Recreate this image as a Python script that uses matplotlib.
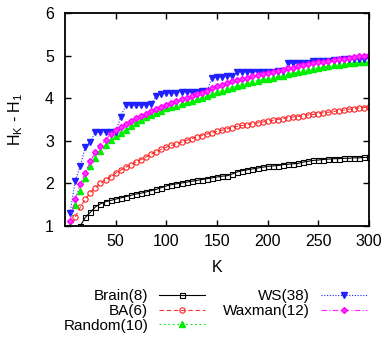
import numpy as np
import matplotlib
matplotlib.use('Agg')
import matplotlib.pyplot as plt

plt.rcParams['font.family'] = ['Liberation Sans', 'DejaVu Sans']

# K values (one marker every 5)
k = list(range(5, 301, 5))

brain = [0.5, 0.8, 1.0, 1.2, 1.32, 1.45, 1.52, 1.57, 1.6, 1.63,
         1.66, 1.69, 1.72, 1.75, 1.77, 1.8, 1.83, 1.86, 1.9, 1.94,
         1.97, 1.99, 2.01, 2.03, 2.05, 2.07, 2.09, 2.11, 2.13, 2.15,
         2.17, 2.18, 2.22, 2.27, 2.3, 2.32, 2.34, 2.36, 2.38, 2.4,
         2.41, 2.42, 2.44, 2.45, 2.46, 2.47, 2.5, 2.52, 2.54, 2.55,
         2.56, 2.57, 2.58, 2.58, 2.59, 2.59, 2.6, 2.6, 2.61, 2.61]

ba = [0.9, 1.2, 1.44, 1.63, 1.78, 1.9, 2.0, 2.08, 2.16, 2.24,
      2.31, 2.38, 2.44, 2.5, 2.56, 2.62, 2.68, 2.74, 2.8, 2.85,
      2.89, 2.93, 2.97, 3.01, 3.05, 3.09, 3.12, 3.16, 3.19, 3.22,
      3.25, 3.28, 3.31, 3.34, 3.36, 3.38, 3.4, 3.42, 3.44, 3.46,
      3.48, 3.5, 3.52, 3.54, 3.56, 3.57, 3.59, 3.61, 3.62, 3.64,
      3.66, 3.67, 3.69, 3.7, 3.72, 3.74, 3.75, 3.77, 3.78, 3.8]

rand = [1.02, 1.5, 1.83, 2.12, 2.4, 2.6, 2.75, 2.9, 3.03, 3.12,
        3.19, 3.26, 3.34, 3.42, 3.48, 3.55, 3.6, 3.66, 3.71, 3.76,
        3.79, 3.82, 3.86, 3.9, 3.94, 3.97, 4.01, 4.05, 4.1, 4.14,
        4.17, 4.21, 4.25, 4.28, 4.32, 4.35, 4.38, 4.41, 4.44, 4.46,
        4.48, 4.51, 4.53, 4.56, 4.58, 4.61, 4.64, 4.67, 4.69, 4.71,
        4.73, 4.75, 4.77, 4.78, 4.8, 4.82, 4.83, 4.85, 4.86, 4.87]

ws = [1.3, 2.05, 2.4, 2.85, 2.98, 3.2, 3.2, 3.2, 3.2, 3.2,
      3.57, 3.83, 3.83, 3.83, 3.84, 3.85, 3.86, 4.05, 4.1, 4.12,
      4.12, 4.13, 4.14, 4.14, 4.15, 4.15, 4.16, 4.16, 4.48, 4.5,
      4.5, 4.51, 4.52, 4.62, 4.62, 4.62, 4.62, 4.62, 4.62, 4.62,
      4.62, 4.63, 4.63, 4.82, 4.82, 4.83, 4.83, 4.83, 4.87, 4.87,
      4.88, 4.88, 4.89, 4.9, 4.91, 4.92, 4.92, 4.93, 4.93, 4.94]

waxman = [1.12, 1.63, 1.99, 2.24, 2.52, 2.74, 2.88, 3.02, 3.15, 3.25,
          3.33, 3.4, 3.47, 3.53, 3.59, 3.64, 3.69, 3.74, 3.79, 3.84,
          3.88, 3.93, 3.97, 4.01, 4.05, 4.09, 4.13, 4.18, 4.24, 4.28,
          4.32, 4.36, 4.4, 4.43, 4.46, 4.48, 4.51, 4.54, 4.57, 4.6,
          4.62, 4.65, 4.67, 4.7, 4.72, 4.75, 4.77, 4.8, 4.82, 4.84,
          4.86, 4.88, 4.9, 4.91, 4.93, 4.95, 4.97, 4.98, 5.0, 5.01]

xticks = [50, 100, 150, 200, 250, 300]
yticks = [1, 2, 3, 4, 5, 6]

fig = plt.figure(figsize=(3.85, 3.38), dpi=100)
ax = fig.add_axes([65/385, 1-226/338, 304/385, 213/338])

ax.plot(k, brain, color='black', lw=0.8, ls='-', marker='s', ms=3.6,
        mfc='none', mec='black', mew=0.8, label='Brain(8)')
ax.plot(k, ba, color='#ff3030', lw=0.8, ls=(0, (4, 2.5)), marker='o', ms=3.8,
        mfc='none', mec='#ff2020', mew=0.8, label='BA(6)')
ax.plot(k, rand, color='#00ee00', lw=0.8, ls=(0, (1.5, 2.5)), marker='^', ms=3.8,
        mfc='#00ee00', mec='#00ee00', label='Random(10)')
ax.plot(k, ws, color='#2020ff', lw=0.8, ls=(0, (1, 1.5)), marker='v', ms=4.2,
        mfc='#2020ff', mec='#2020ff', label='WS(38)')
ax.plot(k, waxman, color='#ff20ff', lw=0.8, ls=(0, (5, 2, 1, 2)), marker='D', ms=3.0,
        mfc='#ff40ff', mec='#ff00ff', label='Waxman(12)')

ax.set_xlim(0, 300)
ax.set_ylim(1, 6)
ax.set_xticks(xticks)
ax.set_yticks(yticks)
ax.tick_params(direction='in', top=True, right=True, length=4.5, width=1, labelsize=11.5)
ax.tick_params(axis='x', pad=6)
ax.tick_params(axis='y', pad=8)
for s in ax.spines.values():
    s.set_linewidth(1.3)

ax.set_xlabel('K', fontsize=11.5, labelpad=8)
ax.set_ylabel(r'H$_\mathregular{K}$ - H$_\mathregular{1}$', fontsize=11.5, labelpad=14)

handles, labels = ax.get_legend_handles_labels()
fig.legend(handles, labels, ncol=2, markerfirst=False, frameon=False,
           loc='center', bbox_to_anchor=(215/385, 1-311/338), fontsize=11,
           handlelength=3.0, handletextpad=0.7, columnspacing=1.2,
           labelspacing=0.05, borderpad=0)

fig.savefig('out.png', dpi=100)
